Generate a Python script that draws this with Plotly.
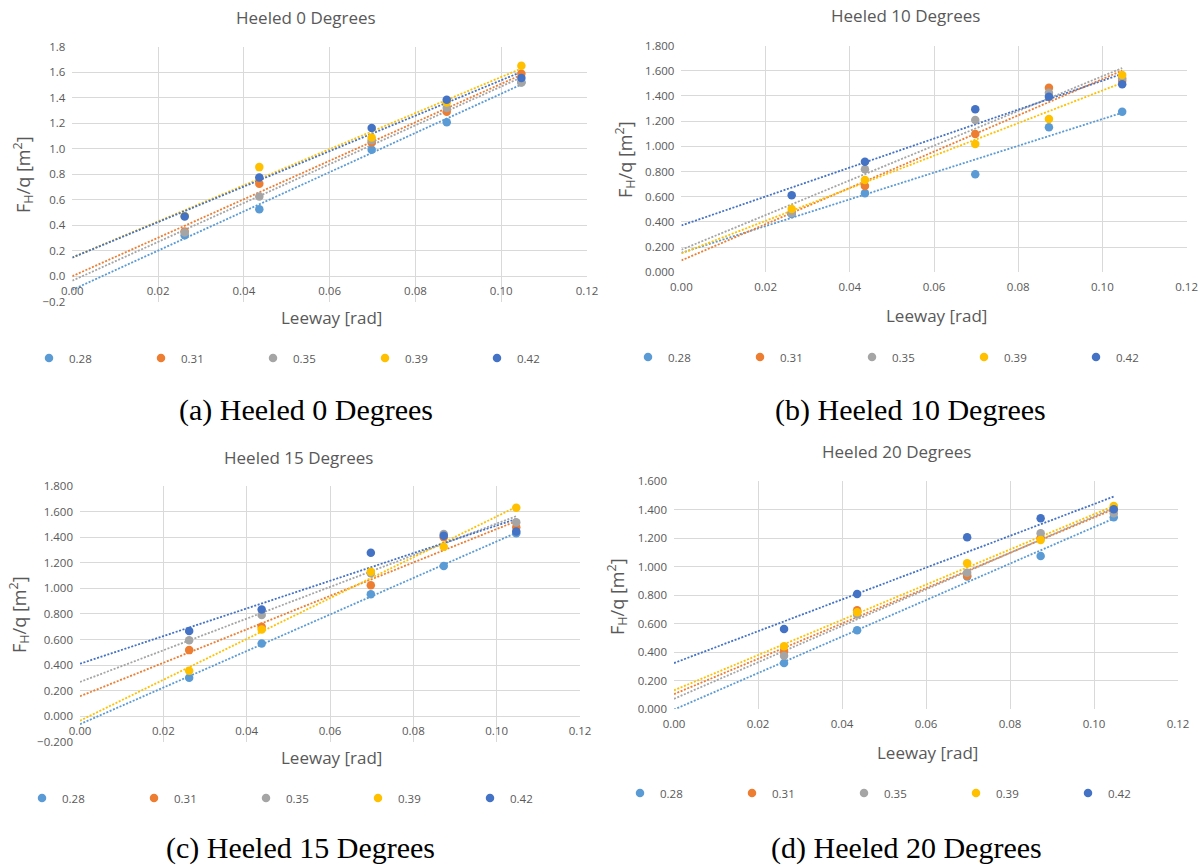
import numpy as np
import plotly.graph_objects as go

# Leeway angles tested (rad) and the hull speeds that label each series
leeway = [0.0262, 0.0436, 0.0698, 0.0873, 0.1047]
speed_labels = ["0.28", "0.31", "0.35", "0.39", "0.42"]
speed_colors = ["#5B9BD5", "#ED7D31", "#A5A5A5", "#FFC000", "#4472C4"]

# F_H/q [m^2] at heel 0 deg, one list per speed
heel0_028 = [0.320, 0.524, 0.990, 1.205, 1.520]
heel0_031 = [0.350, 0.723, 1.047, 1.289, 1.587]
heel0_035 = [0.342, 0.624, 1.065, 1.318, 1.518]
heel0_039 = [0.470, 0.854, 1.086, 1.360, 1.649]
heel0_042 = [0.467, 0.773, 1.160, 1.383, 1.553]

# heel 10 deg
heel10_028 = [0.462, 0.627, 0.778, 1.151, 1.275]
heel10_031 = [0.475, 0.685, 1.098, 1.465, 1.521]
heel10_035 = [0.470, 0.817, 1.209, 1.425, 1.540]
heel10_039 = [0.502, 0.733, 1.018, 1.217, 1.566]
heel10_042 = [0.611, 0.878, 1.294, 1.394, 1.492]

# heel 15 deg
heel15_028 = [0.301, 0.569, 0.953, 1.174, 1.430]
heel15_031 = [0.517, 0.700, 1.023, 1.398, 1.477]
heel15_035 = [0.595, 0.791, 1.117, 1.425, 1.516]
heel15_039 = [0.355, 0.679, 1.130, 1.325, 1.630]
heel15_042 = [0.666, 0.835, 1.278, 1.411, 1.443]

# heel 20 deg
heel20_028 = [0.323, 0.553, 0.930, 1.074, 1.345]
heel20_031 = [0.404, 0.693, 0.935, 1.200, 1.400]
heel20_035 = [0.374, 0.663, 0.957, 1.233, 1.373]
heel20_039 = [0.440, 0.679, 1.022, 1.186, 1.425]
heel20_042 = [0.561, 0.807, 1.205, 1.338, 1.401]

panel_titles = ["Heeled 0 Degrees", "Heeled 10 Degrees", "Heeled 15 Degrees", "Heeled 20 Degrees"]
panel_captions = ["(a) Heeled 0 Degrees", "(b) Heeled 10 Degrees",
                  "(c) Heeled 15 Degrees", "(d) Heeled 20 Degrees"]
panel_yranges = [(-0.2, 1.8), (0.0, 1.8), (-0.2, 1.8), (0.0, 1.6)]
panel_yformats = [".1f", ".3f", ".3f", ".3f"]
x_range = (0.0, 0.12)
trend_start = 0.0

panel_data = [
    [heel0_028, heel0_031, heel0_035, heel0_039, heel0_042],
    [heel10_028, heel10_031, heel10_035, heel10_039, heel10_042],
    [heel15_028, heel15_031, heel15_035, heel15_039, heel15_042],
    [heel20_028, heel20_031, heel20_035, heel20_039, heel20_042],
]

W, H = 1204, 865
GREY_TXT = "#595959"
GRID = "#D9D9D9"
FONT = "'Open Sans', Lato, sans-serif"
SERIF = "'Liberation Serif', 'DejaVu Serif', serif"


def fx(p):
    return p / W


def fy(p):
    return 1 - p / H


# pixel frame of each panel: plot box, title, axis titles, legend, caption
frames = [
    dict(x0=72.3, x1=587.0, ytop=46.5, ybot=301.5, title=(306, 18), ytitle=(23, 175),
         xtitle=(331, 318), leg=(49, 358), cap=(306, 410)),
    dict(x0=681.4, x1=1186.6, ytop=45.5, ybot=272.3, title=(905, 15), ytitle=(625, 160),
         xtitle=(936, 315), leg=(648, 357), cap=(910, 410)),
    dict(x0=80.0, x1=580.0, ytop=485.9, ybot=741.9, title=(298, 457), ytitle=(19, 615),
         xtitle=(331, 757), leg=(42, 798), cap=(300, 848)),
    dict(x0=674.0, x1=1178.0, ytop=481.0, ybot=709.0, title=(896, 452), ytitle=(617, 597),
         xtitle=(927, 752), leg=(640, 793), cap=(906, 848)),
]

fig = go.Figure()
annotations = []
layout_axes = {}

for i, (fr, series) in enumerate(zip(frames, panel_data)):
    n = "" if i == 0 else str(i + 1)
    xa, ya = "x" + n, "y" + n
    leg = "legend" + n
    ymin, ymax = panel_yranges[i]

    # dotted least-squares trendlines
    for lab, col, vals in zip(speed_labels, speed_colors, series):
        slope, icpt = np.polyfit(leeway, vals, 1)
        xs = np.array([trend_start, max(leeway)])
        fig.add_trace(go.Scatter(
            x=xs, y=icpt + slope * xs, mode="lines", xaxis=xa, yaxis=ya,
            line=dict(color=col, width=1.8, dash="2px,1.6px"),
            showlegend=False, hoverinfo="skip"))
    # measured points
    for lab, col, vals in zip(speed_labels, speed_colors, series):
        fig.add_trace(go.Scatter(
            x=leeway, y=vals, mode="markers", name=lab, xaxis=xa, yaxis=ya,
            legend=leg, marker=dict(color=col, size=8.5)))

    ydom = (fy(fr["ybot"]), fy(fr["ytop"]))
    xdom = (fx(fr["x0"]), fx(fr["x1"]))
    zero_pos = ydom[0] + (0 - ymin) / (ymax - ymin) * (ydom[1] - ydom[0])

    layout_axes["xaxis" + n] = dict(
        domain=xdom, range=list(x_range), dtick=0.02, tickformat=".2f",
        showgrid=True, gridcolor=GRID, gridwidth=1, zeroline=False, showline=False,
        ticks="", ticklabelstandoff=6, anchor="free", position=zero_pos,
        tickfont=dict(family=FONT, size=11.5, color=GREY_TXT), fixedrange=True)
    layout_axes["yaxis" + n] = dict(
        domain=ydom, range=[ymin, ymax], dtick=0.2, tickformat=panel_yformats[i],
        showgrid=True, gridcolor=GRID, gridwidth=1, zeroline=False, showline=False,
        ticks="", ticklabelstandoff=6, anchor=xa,
        tickfont=dict(family=FONT, size=11.5, color=GREY_TXT), fixedrange=True)
    layout_axes[leg] = dict(
        orientation="h", x=fx(fr["leg"][0] - 20), y=fy(fr["leg"][1]),
        xanchor="left", yanchor="middle", entrywidth=67, entrywidthmode="pixels",
        font=dict(family=FONT, size=11.5, color=GREY_TXT), bgcolor="rgba(0,0,0,0)",
        tracegroupgap=0, itemclick=False, itemdoubleclick=False)

    annotations += [
        dict(text=panel_titles[i], x=fx(fr["title"][0]), y=fy(fr["title"][1]),
             xref="paper", yref="paper", showarrow=False, xanchor="center", yanchor="middle",
             font=dict(family=FONT, size=17, color=GREY_TXT)),
        dict(text="F<sub>H</sub>/q [m<sup>2</sup>]", x=fx(fr["ytitle"][0]), y=fy(fr["ytitle"][1]),
             xref="paper", yref="paper", showarrow=False, xanchor="center", yanchor="middle",
             textangle=-90, font=dict(family=FONT, size=18, color=GREY_TXT)),
        dict(text="Leeway [rad]", x=fx(fr["xtitle"][0]), y=fy(fr["xtitle"][1]),
             xref="paper", yref="paper", showarrow=False, xanchor="center", yanchor="middle",
             font=dict(family=FONT, size=17, color=GREY_TXT)),
        dict(text=panel_captions[i], x=fx(fr["cap"][0]), y=fy(fr["cap"][1]),
             xref="paper", yref="paper", showarrow=False, xanchor="center", yanchor="middle",
             font=dict(family=SERIF, size=30, color="black")),
    ]

fig.update_layout(
    width=W, height=H, autosize=False,
    margin=dict(l=0, r=0, t=0, b=0, autoexpand=False),
    paper_bgcolor="white", plot_bgcolor="white", annotations=annotations,
    hovermode=False, **layout_axes)

fig.write_html("out.html", config={"displayModeBar": False})
